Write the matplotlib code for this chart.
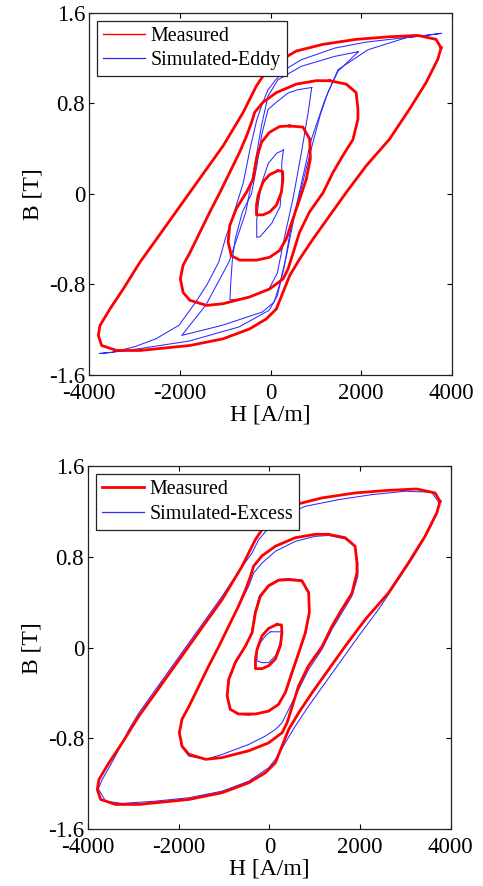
import numpy as np
import matplotlib
matplotlib.use("Agg")
import matplotlib.pyplot as plt
from matplotlib.lines import Line2D

plt.rcParams["font.family"] = ["Liberation Serif", "DejaVu Serif"]
plt.rcParams["axes.unicode_minus"] = False

# ---------------------------------------------------------------------------
# Daten (H [A/m], B [T]), je Schleife ein Umlauf
# ---------------------------------------------------------------------------

meas_1 = [(3765, 1.29), (3655, 1.365), (3251, 1.40), (2626, 1.388), (1892, 1.365),
          (1157, 1.321), (570, 1.262), (129, 1.159), (-165, 1.042), (-312, 0.953),
          (-459, 0.836), (-606, 0.718), (-826, 0.571), (-1047, 0.424), (-1414, 0.219),
          (-1781, 0.013), (-2149, -0.193), (-2516, -0.399), (-2883, -0.604),
          (-3250, -0.839), (-3544, -1.016), (-3765, -1.163), (-3801, -1.251),
          (-3728, -1.339), (-3397, -1.383), (-2883, -1.383), (-1781, -1.339),
          (-1047, -1.28), (-459, -1.192), (-92, -1.104), (129, -1.016), (276, -0.869),
          (423, -0.722), (643, -0.575), (937, -0.399), (1304, -0.193), (1672, 0.013),
          (2112, 0.248), (2626, 0.483), (3067, 0.748), (3434, 0.983), (3692, 1.188)]

meas_2 = [(1300, 1.00), (1670, 0.97), (1890, 0.895), (1930, 0.75), (1930, 0.66),
          (1820, 0.48), (1600, 0.34), (1380, 0.19), (1160, 0.01), (860, -0.16),
          (640, -0.34), (500, -0.52), (390, -0.66), (280, -0.75), (-20, -0.84),
          (-460, -0.91), (-1050, -0.97), (-1410, -0.985), (-1780, -0.94), (-1930, -0.87),
          (-1990, -0.75), (-1930, -0.63), (-1780, -0.52), (-1560, -0.34), (-1340, -0.16),
          (-1120, 0.01), (-900, 0.19), (-680, 0.37), (-530, 0.51), (-420, 0.63),
          (-350, 0.72), (-165, 0.81), (130, 0.895), (570, 0.97), (1010, 1.00)]

meas_3 = [(420, 0.60), (715, 0.59), (865, 0.485), (880, 0.31), (790, 0.13), (645, -0.045),
          (495, -0.22), (350, -0.395), (200, -0.50), (-20, -0.56), (-310, -0.585),
          (-680, -0.585), (-865, -0.545), (-935, -0.425), (-900, -0.28), (-755, -0.13),
          (-530, 0.015), (-385, 0.13), (-310, 0.31), (-200, 0.455), (-20, 0.545),
          (200, 0.595)]

meas_4 = [(165, 0.205), (265, 0.20), (275, 0.13), (240, 0.015), (130, -0.10),
          (-20, -0.16), (-165, -0.185), (-310, -0.185), (-310, -0.10), (-275, -0.015),
          (-165, 0.105), (-20, 0.17)]

eddy_1 = [(3770, 1.418), (3400, 1.397), (2900, 1.377), (2100, 1.34), (1420, 1.288),
          (680, 1.185), (315, 1.097), (100, 1.0), (-55, 0.92), (-180, 0.80), (-305, 0.65),
          (-450, 0.40), (-600, 0.10), (-800, -0.16), (-1000, -0.40), (-1140, -0.60),
          (-1400, -0.80), (-1650, -0.955), (-2020, -1.16), (-2530, -1.28), (-3000, -1.35),
          (-3500, -1.40), (-3780, -1.41), (-3300, -1.39), (-2900, -1.367), (-1800, -1.30),
          (-695, -1.175), (-30, -1.028), (150, -0.90), (300, -0.65), (450, -0.30),
          (610, -0.035), (900, 0.48), (1200, 0.83), (1490, 1.097), (2150, 1.273),
          (3000, 1.38)]

eddy_2 = [(1940, 1.256), (1420, 1.215), (680, 1.127), (165, 1.008), (-55, 0.864),
          (-200, 0.60), (-350, 0.25), (-545, -0.16), (-915, -0.60), (-1430, -0.984),
          (-1960, -1.25), (-1060, -1.16), (-180, -1.043), (80, -0.955), (200, -0.80),
          (350, -0.55), (500, -0.25), (680, 0.05), (900, 0.40), (1100, 0.70),
          (1270, 0.90), (1490, 1.083)]

eddy_3 = [(910, 0.94), (600, 0.92), (385, 0.89), (100, 0.80), (-55, 0.745), (-190, 0.53),
          (-300, 0.25), (-420, 0.0), (-620, -0.16), (-780, -0.40), (-840, -0.57),
          (-880, -0.80), (-895, -0.935), (-545, -0.925), (-30, -0.837), (150, -0.70),
          (300, -0.40), (500, -0.035), (680, 0.36), (830, 0.715)]

eddy_4 = [(284, 0.388), (248, 0.27), (248, 0.064), (211, -0.113), (27, -0.26),
          (-231, -0.378), (-304, -0.384), (-304, -0.23), (-268, -0.083), (-194, 0.094),
          (-48, 0.27), (137, 0.359)]

excess_1 = [(3745, 1.277), (3580, 1.371), (2995, 1.38), (2260, 1.35), (1525, 1.306),
            (790, 1.247), (276, 1.159), (-18, 1.056), (-238, 0.953), (-385, 0.836),
            (-569, 0.733), (-826, 0.586), (-1047, 0.453), (-1414, 0.247), (-1781, 0.042),
            (-2149, -0.164), (-2516, -0.37), (-2883, -0.575), (-3104, -0.722),
            (-3324, -0.898), (-3544, -1.06), (-3691, -1.163), (-3779, -1.245),
            (-3618, -1.354), (-3250, -1.374), (-2516, -1.354), (-1781, -1.324),
            (-1047, -1.266), (-459, -1.178), (-18, -1.06), (129, -0.986), (349, -0.839),
            (570, -0.692), (863, -0.516), (1231, -0.31), (1598, -0.105), (1966, 0.101),
            (2406, 0.337), (2847, 0.602), (3140, 0.778), (3361, 0.924), (3581, 1.086),
            (3728, 1.218)]

excess_2 = [(1304, 0.99), (1672, 0.96), (1890, 0.89), (1951, 0.747), (1951, 0.63),
            (1818, 0.454), (1598, 0.307), (1378, 0.16), (1157, -0.016), (863, -0.193),
            (643, -0.369), (423, -0.545), (276, -0.663), (129, -0.722), (-92, -0.78),
            (-459, -0.854), (-1047, -0.942), (-1414, -0.986), (-1781, -0.957),
            (-1943, -0.869), (-1987, -0.751), (-1928, -0.634), (-1781, -0.516),
            (-1561, -0.34), (-1341, -0.164), (-1120, 0.013), (-900, 0.189), (-679, 0.366),
            (-459, 0.542), (-349, 0.659), (-165, 0.747), (129, 0.85), (570, 0.938),
            (1010, 0.982)]

excess_3 = [(423, 0.609), (716, 0.597), (863, 0.491), (878, 0.309), (805, 0.133),
            (658, -0.043), (511, -0.22), (364, -0.396), (165, -0.514), (-92, -0.567),
            (-459, -0.596), (-716, -0.587), (-885, -0.529), (-936, -0.426), (-885, -0.279),
            (-738, -0.132), (-532, 0.015), (-400, 0.133), (-327, 0.309), (-224, 0.456),
            (-33, 0.55), (202, 0.603)]

excess_4 = [(18, 0.14), (261, 0.14), (239, 0.044), (129, -0.073), (-18, -0.132),
            (-165, -0.132), (-275, -0.117), (-275, -0.029), (-202, 0.044), (-92, 0.103)]

measured_loops = [meas_1, meas_2, meas_3, meas_4]
eddy_loops = [eddy_1, eddy_2, eddy_3, eddy_4]
excess_loops = [excess_1, excess_2, excess_3, excess_4]

x_ticks = [-4000, -2000, 0, 2000, 4000]
x_ticklabels = ["-4000", "-2000", "0", "2000", "4000"]
y_ticks = [-1.6, -0.8, 0, 0.8, 1.6]
y_ticklabels = ["-1.6", "-0.8", "0", "0.8", "1.6"]

BLUE = "#2b2bff"


def _loop(ax, pts, **kw):
    a = np.array(pts + pts[:1], dtype=float)
    ax.plot(a[:, 0], a[:, 1], **kw)


def panel(ax, sim_loops, sim_label, legend_red_lw):
    for lp in sim_loops:
        _loop(ax, lp, color=BLUE, lw=0.75, zorder=2)
    for lp in measured_loops:
        _loop(ax, lp, color="red", lw=2.0, zorder=3, solid_joinstyle="round")

    ax.set_xlim(-4000, 4000)
    ax.set_ylim(-1.6, 1.6)
    ax.set_xticks(x_ticks)
    ax.set_xticklabels(x_ticklabels)
    ax.set_yticks(y_ticks)
    ax.set_yticklabels(y_ticklabels)
    ax.tick_params(direction="in", length=3.5, width=0.8, top=True, right=True,
                   labelsize=16.5)
    ax.tick_params(axis="x", pad=6)
    ax.tick_params(axis="y", pad=3)
    for sp in ax.spines.values():
        sp.set_linewidth(0.9)
        sp.set_color("#222222")
    ax.set_xlabel("H [A/m]", fontsize=17, labelpad=0)
    ax.set_ylabel("B [T]", fontsize=17, labelpad=4)

    handles = [Line2D([], [], color="red", lw=legend_red_lw),
               Line2D([], [], color=BLUE, lw=0.9)]
    leg = ax.legend(handles, ["Measured", sim_label], loc="upper left",
                    bbox_to_anchor=(0.02, 0.978), borderaxespad=0, fontsize=14.4,
                    fancybox=False, framealpha=1, edgecolor="#222222",
                    handlelength=2.1, handletextpad=0.3, borderpad=0.3,
                    labelspacing=0.28)
    leg.get_frame().set_linewidth(0.9)


fig = plt.figure(figsize=(4.83, 8.86), dpi=100)
ax1 = fig.add_axes([0.1849, 0.5767, 0.7503, 0.4089])
ax2 = fig.add_axes([0.1828, 0.0643, 0.7503, 0.4094])

panel(ax1, eddy_loops, "Simulated-Eddy", 1.0)
panel(ax2, excess_loops, "Simulated-Excess", 2.0)

fig.savefig("out.png", dpi=100)
